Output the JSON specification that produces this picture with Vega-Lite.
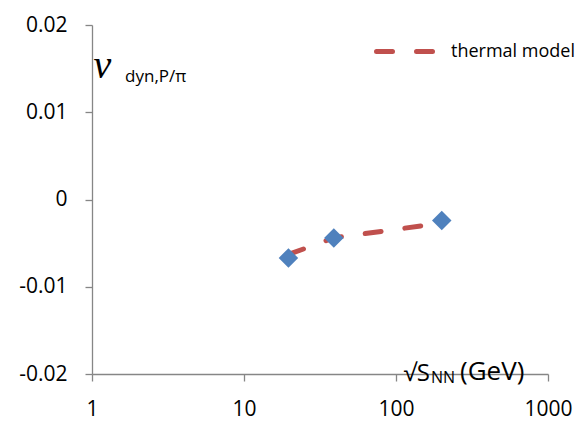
{
  "$schema": "https://vega.github.io/schema/vega-lite/v6.json",
  "width": 456,
  "height": 349,
  "autosize": {"type": "none"},
  "padding": {"left": 92, "top": 25, "right": 39, "bottom": 52},
  "background": "white",
  "config": {
    "view": {"stroke": null},
    "font": "Open Sans",
    "axis": {
      "domainColor": "#868686",
      "tickColor": "#868686",
      "domainWidth": 1.3,
      "tickWidth": 1.3,
      "grid": false,
      "labelFont": "Open Sans",
      "labelFontSize": 21,
      "labelColor": "#000000",
      "tickSize": 7
    }
  },
  "datasets": {
    "obs": [
      {"sNN": 19.6, "nu": -0.0067},
      {"sNN": 39, "nu": -0.0044},
      {"sNN": 200, "nu": -0.0024}
    ],
    "model": [
      {"sNN": 19.6, "nu": -0.0063, "series": "thermal model"},
      {"sNN": 39, "nu": -0.0044, "series": "thermal model"},
      {"sNN": 200, "nu": -0.0027, "series": "thermal model"}
    ],
    "labels": [
      {"part": "ysub", "text": "dyn,P/π"},
      {"part": "xsub", "text": "NN"},
      {"part": "xunit", "text": "(GeV)"}
    ]
  },
  "layer": [
    {
      "data": {"name": "model"},
      "mark": {"type": "line", "strokeWidth": 5, "strokeDash": [16, 24], "strokeCap": "round"},
      "encoding": {
        "x": {
          "field": "sNN",
          "type": "quantitative",
          "scale": {"type": "log", "domain": [1, 1000], "nice": false},
          "axis": {
            "values": [1, 10, 100, 1000],
            "format": "d",
            "labelPadding": 17,
            "labelFlush": false,
            "labelOverlap": false,
            "title": "√S",
            "titleX": 311,
            "titleY": 6,
            "titleAlign": "left",
            "titleBaseline": "alphabetic",
            "titleFont": "Open Sans",
            "titleFontSize": 24,
            "titleFontWeight": "normal",
            "titleColor": "#000000"
          }
        },
        "y": {
          "field": "nu",
          "type": "quantitative",
          "scale": {"domain": [-0.02, 0.02], "nice": false, "zero": false},
          "axis": {
            "values": [-0.02, -0.01, 0, 0.01, 0.02],
            "labelExpr": "datum.value == 0 ? '0' : replace(format(datum.value, '.2f'), '−', '-')",
            "labelPadding": 18,
            "title": "ν",
            "titleAngle": 0,
            "titleX": 1,
            "titleY": 52,
            "titleAlign": "left",
            "titleBaseline": "alphabetic",
            "titleFont": "Liberation Serif",
            "titleFontStyle": "italic",
            "titleFontSize": 40,
            "titleFontWeight": "normal",
            "titleColor": "#000000"
          }
        },
        "color": {
          "field": "series",
          "type": "nominal",
          "scale": {"domain": ["thermal model"], "range": ["#C0504D"]},
          "legend": {
            "orient": "none",
            "legendX": 282,
            "legendY": -4,
            "title": null,
            "padding": 0,
            "symbolSize": 3136,
            "symbolStrokeWidth": 5,
            "symbolDash": [16, 24],
            "labelFont": "Open Sans",
            "labelFontSize": 18,
            "labelColor": "#000000",
            "labelOffset": 16,
            "encode": {"symbols": {"update": {"strokeCap": {"value": "round"}}}}
          }
        }
      }
    },
    {
      "data": {"name": "obs"},
      "mark": {"type": "point", "shape": "diamond", "filled": true, "size": 380, "color": "#4F81BD", "opacity": 1},
      "encoding": {
        "x": {"field": "sNN", "type": "quantitative"},
        "y": {"field": "nu", "type": "quantitative"}
      }
    },
    {
      "data": {"name": "labels"},
      "transform": [{"filter": "datum.part == 'ysub'"}],
      "mark": {"type": "text", "align": "left", "baseline": "alphabetic", "font": "Open Sans", "fontSize": 17, "color": "#000000"},
      "encoding": {
        "x": {"datum": 1.65},
        "y": {"datum": 0.01347},
        "text": {"field": "text"}
      }
    },
    {
      "data": {"name": "labels"},
      "transform": [{"filter": "datum.part == 'xsub'"}],
      "mark": {"type": "text", "align": "left", "baseline": "alphabetic", "font": "Open Sans", "fontSize": 16, "color": "#000000"},
      "encoding": {
        "x": {"datum": 169.9},
        "y": {"datum": -0.02103},
        "text": {"field": "text"}
      }
    },
    {
      "data": {"name": "labels"},
      "transform": [{"filter": "datum.part == 'xunit'"}],
      "mark": {"type": "text", "align": "left", "baseline": "alphabetic", "font": "Open Sans", "fontSize": 26, "color": "#000000"},
      "encoding": {
        "x": {"datum": 263.7},
        "y": {"datum": -0.02069},
        "text": {"field": "text"}
      }
    }
  ]
}
